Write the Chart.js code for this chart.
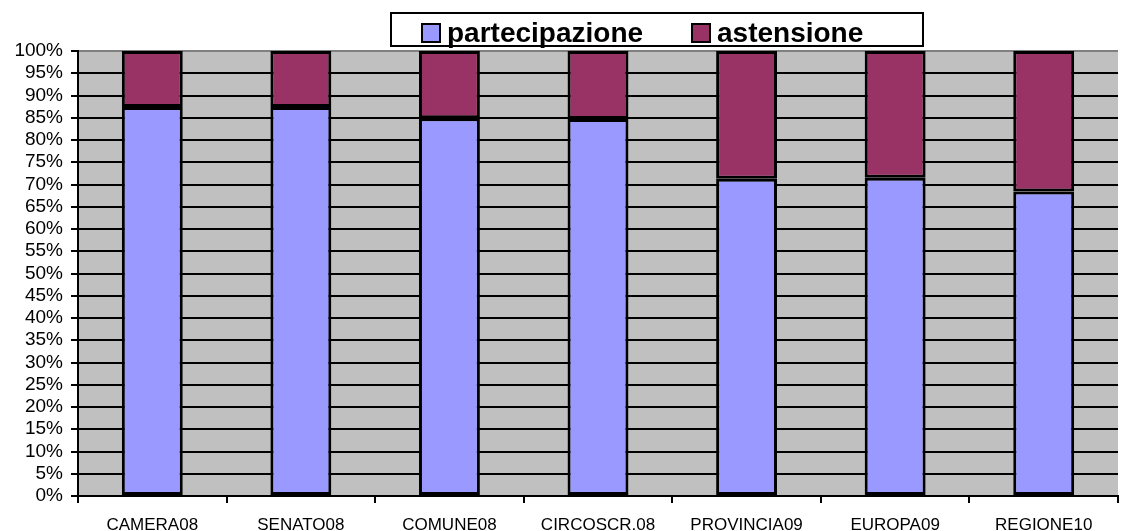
<!DOCTYPE html>
<html>
<head>
<meta charset="utf-8">
<script src="https://cdn.jsdelivr.net/npm/chart.js@4.4.1/dist/chart.umd.min.js"></script>
<style>
html, body { margin: 0; padding: 0; background: #fff; }
</style>
</head>
<body>
<canvas id="chart" width="1128" height="531"></canvas>
<script>
const categories = ['CAMERA08', 'SENATO08', 'COMUNE08', 'CIRCOSCR.08', 'PROVINCIA09', 'EUROPA09', 'REGIONE10'];
const partecipazione = [87.4, 87.4, 84.9, 84.7, 71.3, 71.5, 68.4];
const astensione = [12.6, 12.6, 15.1, 15.3, 28.7, 28.5, 31.6];
const yTicks = { min: 0, max: 100, step: 5 };

const FONT = '"Liberation Sans", Arial, sans-serif';

// grey plot area like the old excel chart
const plotBg = {
    id: 'plotBg',
    beforeDraw(chart) {
        const { ctx, chartArea: a } = chart;
        ctx.save();
        ctx.fillStyle = '#c0c0c0';
        ctx.fillRect(a.left, a.top, a.right - a.left, a.bottom - a.top);
        ctx.restore();
    }
};

// framed legend on top
const boxLegend = {
    id: 'boxLegend',
    afterDraw(chart) {
        const ctx = chart.ctx;
        ctx.save();
        ctx.fillStyle = '#fff'; ctx.strokeStyle = '#000'; ctx.lineWidth = 2;
        ctx.fillRect(391, 13, 532, 33);
        ctx.strokeRect(391, 13, 532, 33);
        ctx.font = 'bold 28px ' + FONT;
        ctx.textBaseline = 'alphabetic';
        const markX = [422, 692];
        chart.data.datasets.forEach((ds, i) => {
            ctx.fillStyle = ds.backgroundColor;
            ctx.fillRect(markX[i], 24, 18, 18);
            ctx.strokeRect(markX[i], 24, 18, 18);
            ctx.fillStyle = '#000';
            ctx.fillText(ds.label, markX[i] + 25, 42);
        });
        ctx.restore();
    }
};

new Chart(document.getElementById('chart'), {
    type: 'bar',
    data: {
        labels: categories,
        datasets: [
            { label: 'partecipazione', data: partecipazione, backgroundColor: '#9999ff' },
            { label: 'astensione', data: astensione, backgroundColor: '#993366' }
        ].map(d => Object.assign(d, { borderColor: '#000', borderWidth: 3, borderSkipped: false, barPercentage: 0.41, categoryPercentage: 1 }))
    },
    options: {
        responsive: false,
        animation: false,
        layout: { padding: { top: 51, right: 10, left: 0, bottom: 0 } },
        plugins: { legend: { display: false }, tooltip: { enabled: false } },
        scales: {
            x: {
                stacked: true,
                offset: true,
                grid: { drawOnChartArea: false, drawTicks: true, tickLength: 7, color: '#000', lineWidth: 2, offset: true },
                border: { color: '#000', width: 2 },
                ticks: { color: '#000', font: { size: 17, family: FONT }, padding: 12, maxRotation: 0, autoSkip: false },
                afterFit(s) { s.height = 35; }
            },
            y: {
                stacked: true,
                min: yTicks.min,
                max: yTicks.max,
                grid: {
                    color: c => (c.tick && c.tick.value === yTicks.max) ? '#808080' : '#000',
                    tickColor: '#000',
                    lineWidth: 2,
                    tickLength: 7
                },
                border: { color: '#000', width: 2 },
                ticks: { stepSize: yTicks.step, autoSkip: false, color: '#000', font: { size: 19, family: FONT }, padding: 8, callback: v => v + '%' },
                afterFit(s) { s.width = 78; }
            }
        }
    },
    plugins: [plotBg, boxLegend]
});
</script>
</body>
</html>
